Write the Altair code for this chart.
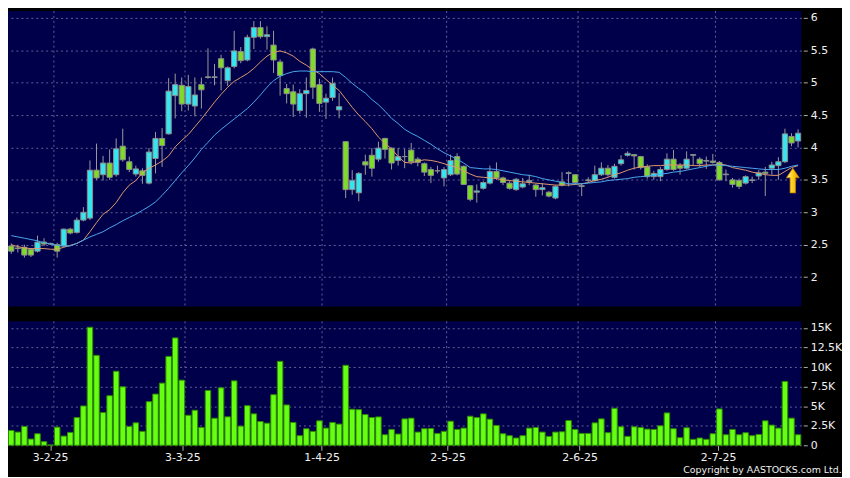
import altair as alt
import pandas as pd

FONT = "DejaVu Sans"
NAVY = "#00004a"
GRID = "#60609a"
UP = "#33e6f0"
DOWN = "#7edc28"
EDGE = "#8c8c8c"
WICK = "#9a9a9a"
VOLC = "#66ff14"
VOLEDGE = "#2f8a00"
ORANGE = "#e09a6a"
BLUE = "#4aa8ec"
TXT = "#f0f0f0"

date_labels = ["3-2-25", "3-3-25", "1-4-25", "2-5-25", "2-6-25", "2-7-25"]
tick_pos = [5.93, 26.08, 47.33, 66.55, 86.68, 107.8]
grid_pos = [6.5, 26.5, 47.4, 66.4, 86.45, 107.4]
price_ticks = [2, 2.5, 3, 3.5, 4, 4.5, 5, 5.5, 6]
vol_ticks = [0, 2.5, 5, 7.5, 10, 12.5, 15]

open_ = [2.48, 2.45, 2.46, 2.43, 2.40, 2.54, 2.52, 2.50, 2.48, 2.74,
         2.69, 2.88, 2.91, 3.65, 3.58, 3.76, 3.58, 4.02, 3.78, 3.59,
         3.64, 3.45, 3.83, 4.14, 4.21, 4.80, 4.96, 4.67, 4.64, 4.97,
         5.09, 5.08, 5.37, 5.03, 5.25, 5.48, 5.35, 5.70, 5.85, 5.71,
         5.58, 5.32, 4.91, 4.86, 4.57, 4.83, 5.52, 4.97, 4.70, 4.77,
         4.58, 4.09, 3.35, 3.30, 3.78, 3.88, 3.82, 4.14, 3.99, 3.80,
         3.86, 3.96, 3.82, 3.75, 3.66, 3.64, 3.53, 3.58, 3.86, 3.71,
         3.41, 3.31, 3.37, 3.45, 3.63, 3.53, 3.45, 3.35, 3.39, 3.47,
         3.42, 3.35, 3.31, 3.22, 3.47, 3.60, 3.58, 3.40, 3.49, 3.49,
         3.58, 3.68, 3.54, 3.75, 3.88, 3.89, 3.86, 3.70, 3.55, 3.55,
         3.66, 3.82, 3.72, 3.68, 3.88, 3.82, 3.79, 3.79, 3.77, 3.58,
         3.50, 3.49, 3.45, 3.49, 3.56, 3.62, 3.68, 3.72, 3.78, 4.17,
         4.10]

high = [2.52, 2.50, 2.50, 2.45, 2.64, 2.60, 2.53, 2.53, 2.75, 2.76,
        2.92, 3.08, 3.80, 4.06, 3.87, 3.97, 4.14, 4.29, 3.86, 3.72,
        3.68, 3.99, 4.24, 4.30, 5.07, 5.14, 5.08, 5.12, 5.08, 5.08,
        5.53, 5.29, 5.43, 5.25, 5.80, 5.55, 5.74, 5.95, 5.95, 5.87,
        5.80, 5.36, 4.98, 4.97, 4.90, 5.08, 5.54, 5.06, 4.83, 5.08,
        4.84, 4.10, 3.65, 3.62, 3.89, 3.99, 4.09, 4.15, 4.00, 3.99,
        3.98, 4.07, 3.85, 3.77, 3.70, 3.72, 3.70, 3.89, 3.91, 3.72,
        3.42, 3.43, 3.48, 3.72, 3.77, 3.55, 3.48, 3.53, 3.53, 3.58,
        3.44, 3.45, 3.33, 3.42, 3.62, 3.63, 3.59, 3.45, 3.54, 3.72,
        3.77, 3.73, 3.75, 3.88, 3.94, 3.90, 3.87, 3.74, 3.64, 3.70,
        3.91, 3.96, 3.76, 3.94, 3.90, 3.85, 3.86, 3.90, 3.79, 3.66,
        3.53, 3.52, 3.57, 3.55, 3.65, 3.70, 3.78, 3.85, 4.29, 4.22,
        4.28]

low = [2.36, 2.38, 2.30, 2.31, 2.38, 2.48, 2.50, 2.30, 2.46, 2.66,
       2.67, 2.86, 2.88, 3.50, 3.49, 3.50, 3.55, 3.78, 3.62, 3.55,
       3.44, 3.43, 3.60, 3.70, 4.20, 4.45, 4.56, 4.57, 4.48, 4.60,
       5.06, 4.96, 4.88, 4.95, 5.22, 5.30, 5.33, 5.52, 5.68, 5.51,
       5.15, 4.80, 4.68, 4.47, 4.52, 4.46, 4.75, 4.55, 4.44, 4.72,
       4.45, 3.22, 3.27, 3.17, 3.58, 3.55, 3.78, 3.83, 3.66, 3.72,
       3.68, 3.74, 3.71, 3.56, 3.45, 3.60, 3.40, 3.56, 3.57, 3.42,
       3.17, 3.15, 3.35, 3.43, 3.50, 3.42, 3.35, 3.33, 3.37, 3.42,
       3.24, 3.26, 3.23, 3.20, 3.40, 3.40, 3.43, 3.25, 3.46, 3.47,
       3.56, 3.55, 3.52, 3.72, 3.86, 3.66, 3.66, 3.52, 3.50, 3.48,
       3.64, 3.64, 3.58, 3.66, 3.72, 3.70, 3.67, 3.75, 3.49, 3.48,
       3.38, 3.36, 3.43, 3.45, 3.50, 3.25, 3.58, 3.50, 3.76, 4.02,
       4.00]

close = [2.40, 2.44, 2.34, 2.34, 2.54, 2.51, 2.51, 2.40, 2.74, 2.68,
         2.88, 3.00, 3.65, 3.53, 3.76, 3.54, 3.98, 3.81, 3.66, 3.67,
         3.57, 3.93, 4.14, 4.03, 4.87, 4.97, 4.67, 4.94, 4.81, 4.89,
         5.08, 5.09, 5.23, 5.23, 5.49, 5.34, 5.70, 5.85, 5.71, 5.74,
         5.35, 5.11, 4.83, 4.67, 4.83, 4.88, 4.93, 4.68, 4.76, 4.99,
         4.63, 3.35, 3.49, 3.60, 3.73, 3.68, 3.99, 3.97, 3.76, 3.86,
         3.86, 3.78, 3.77, 3.62, 3.57, 3.64, 3.66, 3.80, 3.59, 3.43,
         3.20, 3.33, 3.46, 3.63, 3.53, 3.46, 3.37, 3.51, 3.44, 3.49,
         3.35, 3.38, 3.25, 3.40, 3.42, 3.61, 3.46, 3.41, 3.50, 3.58,
         3.68, 3.58, 3.71, 3.81, 3.91, 3.87, 3.69, 3.55, 3.60, 3.66,
         3.82, 3.66, 3.68, 3.82, 3.89, 3.75, 3.80, 3.77, 3.50, 3.59,
         3.43, 3.40, 3.55, 3.50, 3.61, 3.60, 3.73, 3.78, 4.21, 4.07,
         4.22]

volume_k = [1.90, 1.69, 2.41, 0.80, 1.48, 0.47, 0.05, 2.32, 1.18, 1.65,
            3.55, 5.03, 15.09, 11.50, 4.18, 6.34, 9.47, 7.48, 2.41, 2.87,
            1.78, 5.58, 6.55, 7.95, 11.37, 13.73, 8.33, 3.84, 4.48, 2.28,
            7.01, 3.46, 7.35, 3.64, 8.24, 2.45, 5.07, 4.02, 3.04, 2.83,
            6.47, 10.74, 5.16, 2.92, 1.23, 2.12, 1.78, 3.13, 2.20, 2.92,
            2.71, 10.23, 4.61, 4.56, 3.93, 3.55, 3.63, 1.35, 2.03, 1.44,
            3.38, 3.47, 1.69, 2.12, 2.15, 1.52, 1.78, 3.08, 2.03, 2.20,
            3.72, 3.55, 4.02, 3.34, 2.54, 1.48, 1.23, 0.93, 1.23, 2.20,
            2.28, 1.69, 1.14, 1.69, 1.73, 3.17, 2.03, 1.52, 1.52, 2.87,
            3.38, 1.61, 4.73, 2.37, 1.14, 2.37, 2.28, 2.07, 2.03, 2.49,
            4.14, 2.12, 0.97, 2.24, 0.76, 0.93, 0.76, 1.48, 4.65, 1.35,
            2.03, 1.35, 1.61, 1.23, 1.39, 3.13, 2.58, 2.20, 8.16, 3.47,
            1.35]

ma10 = [2.50, 2.47, 2.45, 2.44, 2.44, 2.44, 2.43, 2.43, 2.46, 2.49,
        2.52, 2.57, 2.70, 2.84, 2.97, 3.04, 3.15, 3.30, 3.42, 3.49,
        3.61, 3.68, 3.73, 3.79, 3.87, 4.01, 4.11, 4.20, 4.32, 4.44,
        4.57, 4.70, 4.82, 4.93, 5.02, 5.08, 5.14, 5.22, 5.32, 5.41,
        5.47, 5.49, 5.46, 5.41, 5.33, 5.27, 5.20, 5.14, 5.05, 4.96,
        4.88, 4.75, 4.62, 4.50, 4.40, 4.29, 4.16, 4.06, 3.98, 3.86,
        3.77, 3.76, 3.79, 3.81, 3.80, 3.78, 3.75, 3.72, 3.69, 3.64,
        3.59, 3.55, 3.54, 3.53, 3.52, 3.50, 3.49, 3.48, 3.47, 3.46,
        3.45, 3.44, 3.43, 3.42, 3.42, 3.42, 3.43, 3.44, 3.46, 3.49,
        3.51, 3.54, 3.58, 3.61, 3.65, 3.68, 3.70, 3.71, 3.72, 3.72,
        3.73, 3.73, 3.73, 3.73, 3.72, 3.72, 3.73, 3.73, 3.74, 3.73,
        3.69, 3.67, 3.65, 3.62, 3.60, 3.58, 3.57, 3.57, 3.63, 3.69,
        3.72]

ma20 = [2.64, 2.62, 2.60, 2.58, 2.56, 2.53, 2.51, 2.49, 2.48, 2.48,
        2.52, 2.57, 2.62, 2.66, 2.70, 2.76, 2.81, 2.87, 2.92, 2.97,
        3.03, 3.09, 3.16, 3.26, 3.37, 3.49, 3.61, 3.72, 3.84, 3.97,
        4.08, 4.19, 4.28, 4.36, 4.44, 4.52, 4.60, 4.70, 4.81, 4.93,
        5.03, 5.10, 5.14, 5.17, 5.18, 5.18, 5.17, 5.17, 5.17, 5.17,
        5.16, 5.08, 4.99, 4.91, 4.84, 4.74, 4.66, 4.56, 4.45, 4.37,
        4.28, 4.22, 4.17, 4.11, 4.05, 3.98, 3.92, 3.87, 3.82, 3.76,
        3.69, 3.68, 3.67, 3.67, 3.66, 3.64, 3.62, 3.60, 3.58, 3.57,
        3.55, 3.52, 3.50, 3.48, 3.46, 3.44, 3.44, 3.44, 3.45, 3.46,
        3.47, 3.49, 3.50, 3.51, 3.52, 3.54, 3.55, 3.56, 3.57, 3.59,
        3.60, 3.62, 3.63, 3.65, 3.67, 3.69, 3.71, 3.73, 3.73, 3.72,
        3.71, 3.70, 3.69, 3.68, 3.67, 3.66, 3.66, 3.66, 3.68, 3.71,
        3.73]

# annotation arrow (index position, price level)
arrow_x = [119.2]
arrow_y = [3.49]

df = pd.DataFrame({
    "i": list(range(len(close))),
    "open": open_, "high": high, "low": low, "close": close,
    "volume": volume_k, "ma10": ma10, "ma20": ma20,
})

xs = alt.Scale(domain=[-0.5, 120.5], nice=False, zero=False)
ps = alt.Scale(domain=[1.547, 6.107], nice=False, zero=False)
vs = alt.Scale(domain=[0, 15.85], nice=False, zero=False)

price_axis = alt.Axis(orient="right", values=price_ticks, format="~g", grid=True,
                      gridColor=GRID, gridDash=[2, 3], gridWidth=1, domain=False,
                      ticks=True, tickSize=4, tickColor="#b0b0b0", offset=2,
                      labelPadding=3, labelColor=TXT, labelFont=FONT,
                      labelFontSize=11, title=None)
vol_axis = alt.Axis(orient="right", values=vol_ticks,
                    labelExpr="datum.value == 0 ? '0' : datum.value + 'K'",
                    grid=True, gridColor=GRID, gridDash=[2, 3], gridWidth=1,
                    domain=False, ticks=True, tickSize=4, tickColor="#b0b0b0",
                    offset=2, labelPadding=3, labelColor=TXT, labelFont=FONT,
                    labelFontSize=11, title=None)
label_map = "{" + ", ".join(f"'{p}': '{l}'" for p, l in zip(tick_pos, date_labels)) + "}"
vx_axis = alt.Axis(values=tick_pos, labelExpr=label_map + "[datum.value]", grid=False,
                   domain=False, ticks=True, tickSize=5, tickColor="#b0b0b0",
                   offset=0, labelPadding=1, labelColor=TXT, labelFont=FONT,
                   labelFontSize=11, labelFlush=False, labelOverlap=False, title=None)

grid_df = pd.DataFrame({"g": grid_pos})

# ---- price panel ----
vgrid_p = alt.Chart(grid_df).mark_rule(color=GRID, strokeDash=[2, 3], strokeWidth=1).encode(
    x=alt.X("g:Q", scale=xs, axis=None))

base = alt.Chart(df)
wick = base.mark_rule(color=WICK, strokeWidth=1).encode(
    x=alt.X("i:Q", scale=xs, axis=None),
    y=alt.Y("low:Q", scale=ps, axis=price_axis), y2="high:Q")

body = base.transform_calculate(x0="datum.i - 0.4", x1="datum.i + 0.4").mark_bar(
    stroke=EDGE, strokeWidth=1).encode(
    x=alt.X("x0:Q", scale=xs, axis=None), x2="x1:Q",
    y=alt.Y("open:Q", scale=ps, axis=price_axis), y2="close:Q",
    fill=alt.condition("datum.close >= datum.open", alt.value(UP), alt.value(DOWN)))

l10 = base.mark_line(color=ORANGE, strokeWidth=1).encode(
    x=alt.X("i:Q", scale=xs, axis=None), y=alt.Y("ma10:Q", scale=ps, axis=price_axis))
l20 = base.mark_line(color=BLUE, strokeWidth=1).encode(
    x=alt.X("i:Q", scale=xs, axis=None), y=alt.Y("ma20:Q", scale=ps, axis=price_axis))

ARROW = "M0,-1 L0.52,-0.22 L0.22,-0.22 L0.22,1 L-0.22,1 L-0.22,-0.22 L-0.52,-0.22 Z"
arrow = alt.Chart(pd.DataFrame({"ax": arrow_x, "ay": arrow_y})).mark_point(
    shape=ARROW, size=620, filled=True, opacity=1,
    fill=alt.Gradient(gradient="linear",
                      stops=[alt.GradientStop(color="#fff7b8", offset=0),
                             alt.GradientStop(color="#ffd21e", offset=0.45),
                             alt.GradientStop(color="#e09a00", offset=1)],
                      x1=0, x2=1, y1=0, y2=0),
    stroke="#c08000", strokeWidth=0.8).encode(
    x=alt.X("ax:Q", scale=xs, axis=None), y=alt.Y("ay:Q", scale=ps, axis=price_axis))

price = alt.layer(vgrid_p, wick, body, l10, l20, arrow).properties(width=800, height=298)

# ---- volume panel ----
vgrid_v = alt.Chart(grid_df).mark_rule(color=GRID, strokeDash=[2, 3], strokeWidth=1).encode(
    x=alt.X("g:Q", scale=xs, axis=vx_axis))
vbars = base.transform_calculate(x0="datum.i - 0.42", x1="datum.i + 0.42").mark_bar(
    fill=VOLC, stroke=VOLEDGE, strokeWidth=1).encode(
    x=alt.X("x0:Q", scale=xs, axis=vx_axis), x2="x1:Q",
    y=alt.Y("volume:Q", scale=vs, axis=vol_axis), y2=alt.datum(0))

vol = alt.layer(vgrid_v, vbars).properties(width=800, height=125)

chart = alt.vconcat(price, vol, spacing=13).properties(
    background="#000000",
    padding={"left": 0, "top": 0, "right": 0, "bottom": 0},
    title=alt.TitleParams("Copyright by AASTOCKS.com Ltd.", orient="bottom", anchor="end",
                          font=FONT, fontSize=9.5, fontWeight="normal", color=TXT, offset=3),
).configure_view(fill=NAVY, stroke=None)

chart.save("out.html", embed_options={"renderer": "svg", "actions": False})
